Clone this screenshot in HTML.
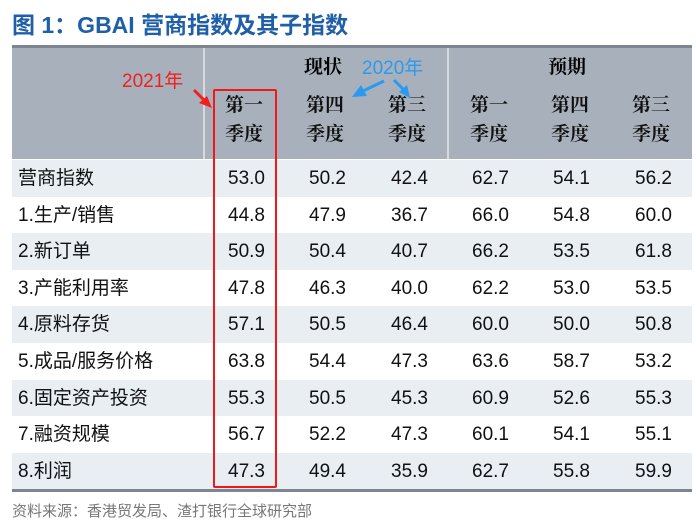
<!DOCTYPE html>
<html><head><meta charset="utf-8"><style>
body{margin:0;width:696px;height:527px;background:#fff;position:relative;overflow:hidden;font-family:"Liberation Sans","Noto Sans CJK SC",sans-serif}
.a{position:absolute;white-space:nowrap}
.t{left:12px;top:6px;font-size:23px;font-weight:bold;color:#1f5fa8}
.row{position:absolute;left:12px;width:680px;height:37px}
.c{position:absolute;font-size:19px;color:#111;line-height:37px}
.h{position:absolute;font-size:19px;font-weight:bold;color:#111;text-align:center;width:60px;line-height:29px;font-family:"Liberation Serif","Noto Serif CJK SC",serif}
</style></head><body>
<div class="a t">图 1：GBAI 营商指数及其子指数</div>
<div class="a" style="left:12px;top:45px;width:680px;height:3px;background:#7d8690"></div>
<div class="a" style="left:12px;top:48px;width:680px;height:111px;background:#a8b1bb"></div>
<div class="a" style="left:203px;top:48px;width:2px;height:111px;background:#d6dade"></div>
<div class="a" style="left:447px;top:48px;width:2px;height:111px;background:#d6dade"></div>
<div class="a" style="left:304px;top:52px;font-size:19px;font-weight:bold;font-family:'Liberation Serif','Noto Serif CJK SC',serif">现状</div>
<div class="a" style="left:548px;top:52px;font-size:19px;font-weight:bold;font-family:'Liberation Serif','Noto Serif CJK SC',serif">预期</div>
<div class="h" style="left:214px;top:91px">第一<br>季度</div>
<div class="h" style="left:295px;top:91px">第四<br>季度</div>
<div class="h" style="left:377px;top:91px">第三<br>季度</div>
<div class="h" style="left:459px;top:91px">第一<br>季度</div>
<div class="h" style="left:540px;top:91px">第四<br>季度</div>
<div class="h" style="left:621px;top:91px">第三<br>季度</div>
<div class="a" style="left:122px;top:66px;font-size:19px;color:#f02020">2021年</div>
<div class="a" style="left:362px;top:53px;font-size:19px;color:#2a9af0">2020年</div>
<svg class="a" style="left:0;top:0" width="696" height="527">
<line x1="194" y1="90" x2="205" y2="101" stroke="#f02020" stroke-width="3"/>
<polygon points="212,108 199,103 207,96" fill="#f02020"/>
<line x1="384" y1="81" x2="363" y2="91" stroke="#2a9af0" stroke-width="3"/>
<polygon points="352,97 361,85 367,96" fill="#2a9af0"/>
<line x1="394" y1="80" x2="404" y2="90" stroke="#2a9af0" stroke-width="3"/>
<polygon points="410,98 399,92 407,85" fill="#2a9af0"/>
</svg>
<div id="rows"></div>
<div class="a" style="left:12px;top:489px;width:680px;height:3px;background:#7d8690"></div>
<div class="a" style="left:12px;top:500px;font-size:15px;color:#777">资料来源：香港贸发局、渣打银行全球研究部</div>
<div class="a" style="left:213px;top:89px;width:60px;height:395px;border:2.5px solid #f01818;border-radius:2px"></div>
<script>
var d=[["营商指数","53.0","50.2","42.4","62.7","54.1","56.2"],["1.生产/销售","44.8","47.9","36.7","66.0","54.8","60.0"],["2.新订单","50.9","50.4","40.7","66.2","53.5","61.8"],["3.产能利用率","47.8","46.3","40.0","62.2","53.0","53.5"],["4.原料存货","57.1","50.5","46.4","60.0","50.0","50.8"],["5.成品/服务价格","63.8","54.4","47.3","63.6","58.7","53.2"],["6.固定资产投资","55.3","50.5","45.3","60.9","52.6","55.3"],["7.融资规模","56.7","52.2","47.3","60.1","54.1","55.1"],["8.利润","47.3","49.4","35.9","62.7","55.8","59.9"]];
var R=[265,346,428,509,590,672],h="";
d.forEach(function(r,i){var top=160+i*36.6;h+='<div class="row" style="top:'+top+'px;background:'+(i%2?'#fff':'#e9eef3')+'">';
h+='<div class="c" style="left:6px">'+r[0]+'</div>';
for(var j=1;j<7;j++)h+='<div class="c" style="right:'+(692-R[j-1])+'px">'+r[j]+'</div>';
h+='</div>';});
document.getElementById('rows').outerHTML=h;
</script>
</body></html>
